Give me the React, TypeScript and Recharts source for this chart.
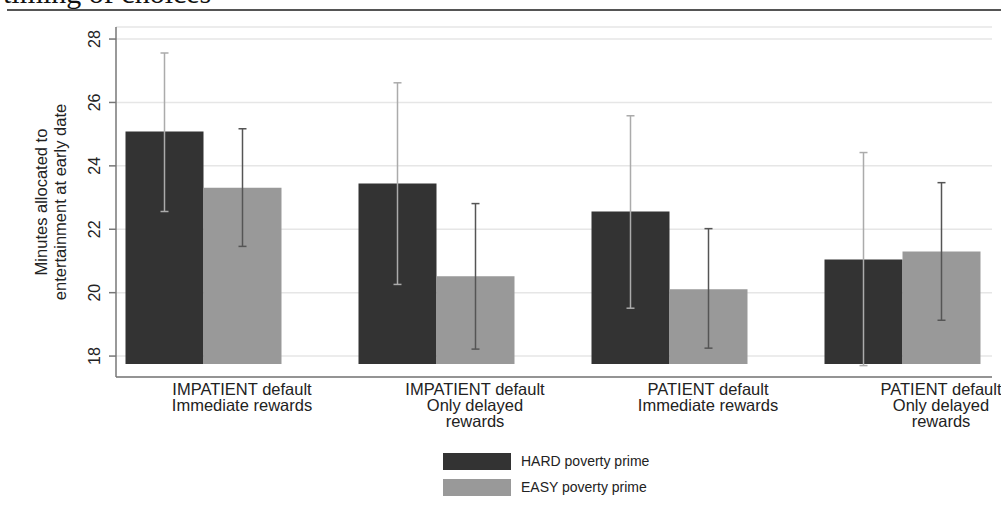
import { BarChart, Bar, XAxis, YAxis, CartesianGrid, ErrorBar, Legend } from 'recharts';

const categories = [
  'IMPATIENT default\nImmediate rewards',
  'IMPATIENT default\nOnly delayed\nrewards',
  'PATIENT default\nImmediate rewards',
  'PATIENT default\nOnly delayed\nrewards',
];
const hardMean = [25.08, 23.44, 22.56, 21.05];
const hardLow = [22.56, 20.26, 19.51, 17.7];
const hardHigh = [27.56, 26.62, 25.58, 24.42];
const easyMean = [23.31, 20.52, 20.11, 21.3];
const easyLow = [21.46, 18.22, 18.25, 19.13];
const easyHigh = [25.17, 22.81, 22.02, 23.47];
const yTicks = [18, 20, 22, 24, 26, 28];
const seriesNames = ['HARD poverty prime', 'EASY poverty prime'];
const seriesColors = ['#333333', '#999999'];

// stata draws the bars from just under the lowest tick
const BAR_BASE = 17.75;
const BAR_W = 78;

const data = categories.map((name, i) => ({
  name,
  hard: [BAR_BASE, hardMean[i]],
  easy: [BAR_BASE, easyMean[i]],
  hardErr: [hardMean[i] - hardLow[i], hardHigh[i] - hardMean[i]],
  easyErr: [easyMean[i] - easyLow[i], easyHigh[i] - easyMean[i]],
}));

function XTick({ x, y, payload }: any) {
  const lines = String(payload.value).split('\n');
  const cx = x + BAR_W / 2;
  return (
    <text x={cx} y={y} textAnchor="middle" fontSize={16.5} fill="#222">
      {lines.map((l, i) => (
        <tspan key={i} x={cx} dy={i === 0 ? 18 : 16}>
          {l}
        </tspan>
      ))}
    </text>
  );
}

function YTick({ x, y, payload }: any) {
  return (
    <g transform={`translate(${x - 7},${y}) rotate(-90)`}>
      <text x={0} y={0} textAnchor="middle" fontSize={16} fill="#222">
        {payload.value}
      </text>
    </g>
  );
}

function YLabel({ viewBox }: any) {
  const cy = viewBox ? viewBox.y + viewBox.height / 2 : 202;
  return (
    <g transform={`translate(47,${cy}) rotate(-90)`}>
      <text textAnchor="middle" fontSize={16.5} fill="#222">
        <tspan x={0} y={0}>Minutes allocated to</tspan>
        <tspan x={0} y={19}>entertainment at early date</tspan>
      </text>
    </g>
  );
}

function LegendBox() {
  return (
    <div style={{ position: 'relative', width: 1001, height: 50 }}>
      {seriesNames.map((n, i) => (
        <div
          key={n}
          style={{ position: 'absolute', left: 443, top: 3 + i * 25.5, display: 'flex', alignItems: 'center' }}
        >
          <div style={{ width: 68, height: 17, background: seriesColors[i] }} />
          <span style={{ marginLeft: 10, fontSize: 14, color: '#222', lineHeight: '17px' }}>{n}</span>
        </div>
      ))}
    </div>
  );
}

export default function App() {
  return (
    <div
      style={{
        position: 'absolute',
        left: 0,
        top: 0,
        width: 1001,
        height: 522,
        background: '#fff',
        overflow: 'hidden',
        fontFamily: '"Liberation Sans", Arial, sans-serif',
      }}
    >
      <BarChart
        width={1001}
        height={522}
        data={data}
        margin={{ top: 27, right: 9, left: 56, bottom: 22 }}
        barGap={0}
        barSize={BAR_W}
      >
        <CartesianGrid vertical={false} stroke="#e6e6e6" strokeWidth={1.5} />
        <XAxis
          dataKey="name"
          interval={0}
          height={73}
          tickLine={false}
          tickSize={0}
          tickMargin={0}
          tick={<XTick />}
          axisLine={{ stroke: '#777', strokeWidth: 1.5 }}
          padding={{ left: -29.5, right: -26.5 }}
        />
        <YAxis
          type="number"
          width={60}
          domain={[17.34, 28.38]}
          allowDataOverflow
          ticks={yTicks}
          tickSize={7}
          tickMargin={2}
          tick={<YTick />}
          tickLine={{ stroke: '#777', strokeWidth: 1.5 }}
          axisLine={{ stroke: '#777', strokeWidth: 1.5 }}
          label={<YLabel />}
        />
        <Legend verticalAlign="bottom" content={<LegendBox />} wrapperStyle={{ left: 0, width: 1001 }} />
        <Bar dataKey="hard" name={seriesNames[0]} fill={seriesColors[0]} isAnimationActive={false}>
          <ErrorBar dataKey="hardErr" direction="y" width={4} stroke="#ababab" strokeWidth={1.5} />
        </Bar>
        <Bar dataKey="easy" name={seriesNames[1]} fill={seriesColors[1]} isAnimationActive={false}>
          <ErrorBar dataKey="easyErr" direction="y" width={4} stroke="#555" strokeWidth={1.5} />
        </Bar>
      </BarChart>
      <div
        style={{
          position: 'absolute',
          left: 3,
          top: -22,
          fontFamily: '"Liberation Serif", serif',
          fontSize: 30,
          lineHeight: '30px',
          color: '#111',
          whiteSpace: 'nowrap',
        }}
      >
        timing of choices
      </div>
      <div style={{ position: 'absolute', left: 7, top: 9, width: 994, height: 2, background: '#555' }} />
    </div>
  );
}
